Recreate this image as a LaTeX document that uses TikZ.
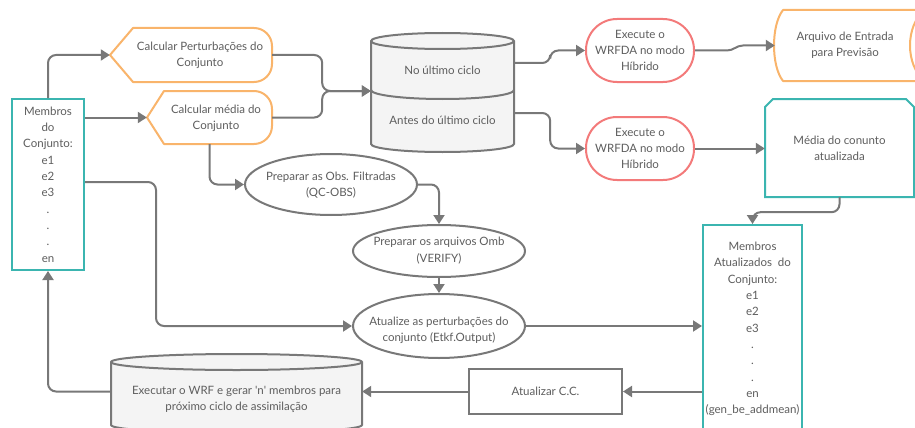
\documentclass[tikz,border=0pt]{standalone}
\usepackage{fontspec}
\setmainfont{Lato}
\usetikzlibrary{arrows.meta,shapes.geometric}
\definecolor{tealc}{HTML}{3BB5B0}
\definecolor{orangec}{HTML}{F9B46B}
\definecolor{redc}{HTML}{F37A7A}
\definecolor{linec}{HTML}{787878}
\definecolor{txtc}{HTML}{5E5E5E}
\definecolor{cylfill}{HTML}{F4F4F4}
\begin{document}
\begin{tikzpicture}[x=1pt,y=-1pt,
  every node/.style={font=\fontsize{11.5}{16.3}\selectfont, text=txtc, align=center, inner sep=0pt},
  anchorbox/.style={draw=none, rectangle, inner sep=0pt},
  tealbox/.style={draw=tealc, line width=2pt, fill=white, rectangle},
  stadium/.style={draw=redc, line width=2pt, fill=white, rectangle, rounded corners=31pt, minimum width=108, minimum height=63},
  oval/.style={draw=linec, line width=2pt, fill=white, ellipse, minimum width=172},
  boxg/.style={draw=linec, line width=2pt, fill=white, rectangle},
  orangeline/.style={draw=orangec, line width=2pt, fill=white, line join=round},
  cylline/.style={draw=linec, line width=2pt, fill=cylfill},
  cylarc/.style={draw=linec, line width=2pt},
  conn/.style={draw=linec, line width=2pt, rounded corners=8pt, -{Triangle[length=9pt,width=11pt]}}
]
\useasboundingbox (0,0) rectangle (915,428);
\clip (0,0) rectangle (915,428);

% ---- custom shapes ----
% Calcular Perturbacoes
\draw[orangeline] (110,55) -- (133,28) -- (254,28) arc[start angle=90,end angle=0,radius=18pt]
  -- (272,64) arc[start angle=0,end angle=-90,radius=18pt] -- (133,82) -- cycle;
% Calcular media
\draw[orangeline] (147,117.5) -- (164,91) -- (254,91) arc[start angle=90,end angle=0,radius=18pt]
  -- (272,126) arc[start angle=0,end angle=-90,radius=18pt] -- (164,144) -- cycle;
% top cylinder
\draw[cylline] (371,41) -- (371,144) arc[start angle=180,end angle=360,x radius=71.5pt,y radius=8pt]
  -- (514,41) arc[start angle=0,end angle=180,x radius=71.5pt,y radius=8pt] -- cycle;
\draw[cylarc] (371,41) arc[start angle=180,end angle=360,x radius=71.5pt,y radius=8pt];
\draw[cylarc] (371,90) arc[start angle=180,end angle=360,x radius=71.5pt,y radius=9pt];
% bottom cylinder
\draw[cylline] (111,362) -- (111,425) arc[start angle=180,end angle=360,x radius=125.5pt,y radius=8pt]
  -- (362,362) arc[start angle=0,end angle=180,x radius=125.5pt,y radius=8pt] -- cycle;
\draw[cylarc] (111,362) arc[start angle=180,end angle=360,x radius=125.5pt,y radius=8pt];
% Arquivo (stored data)
\draw[orangeline] (783,10) -- (925,10) .. controls (905,25) and (905,66) .. (925,81)
  -- (783,81) .. controls (771,66) and (771,25) .. (783,10) -- cycle;
% Media (chamfered)
\draw[draw=tealc, line width=2pt, fill=white] (765,107) -- (773,99) -- (906,99) -- (914,107)
  -- (914,197) -- (765,197) -- cycle;

% ---- nodes ----
\node[tealbox, minimum width=72, minimum height=171] (mem) at (48,184.5)
  {Membros\\do\\Conjunto:\\e1\\e2\\e3\\.\\.\\.\\en};
\node[tealbox, minimum width=99, minimum height=208] (mau) at (752.5,329)
  {Membros\\Atualizados\ \ do\\Conjunto:\\e1\\e2\\e3\\.\\.\\.\\en\\(gen\_be\_addmean)};

\node[anchorbox, minimum width=162, minimum height=54] (cp) at (191,55) {};
\node (cpt) at (200,55.5) {Calcular Perturbações do\\Conjunto};
\node[anchorbox, minimum width=125, minimum height=53] (cm) at (209.5,117.5) {};
\node (cmt) at (216,118) {Calcular média do\\Conjunto};

\node[anchorbox, minimum width=143, minimum height=100] (cyl) at (442.5,91) {};
\node (noul) at (442.5,70.5) {No último ciclo};
\node (antes) at (442.5,120.5) {Antes do último ciclo};

\node[stadium] (ex1) at (640,50.5) {Execute o\\WRFDA no modo\\Híbrido};
\node[stadium] (ex2) at (640,148.5) {Execute o\\WRFDA no modo\\Híbrido};

\node[anchorbox, minimum width=140, minimum height=71] (arq) at (845,45.5) {Arquivo de Entrada\\para Previsão};
\node[anchorbox, minimum width=149, minimum height=98] (med) at (839.5,148) {Média do conunto\\atualizada};

\node[oval, minimum height=61] (qc) at (331,184.5) {};
\node (qct) at (331,185) {Preparar as Obs. Filtradas\\(QC-OBS)};
\node[oval, minimum height=52] (omb) at (439,251) {};
\node (ombt) at (439,250.5) {Preparar os arquivos Omb\\(VERIFY)};
\node[oval, minimum height=64] (atu) at (439,326) {};
\node (atut) at (439,330) {Atualize as perturbações do\\conjunto (Etkf.Output)};

\node[boxg, minimum width=153, minimum height=45] (acc) at (545.5,391.5) {Atualizar C.C.};
\node[anchorbox, minimum width=251, minimum height=40] (wrf) at (236.5,399.5)
  {Executar o WRF e gerar \textquotesingle n\textquotesingle{} membros para\\próximo ciclo de assimilação};

% ---- connectors ----
\draw[conn] (mem.north) |- (cp.west);
\draw[conn] (mem.east |- cm.west) -- (cm.west);
\draw[conn] ([yshift=2.5pt]mem.east) -- ++(71,0) |- (atu.west);
\draw[conn] (cm.south) |- (qc.west);
\draw[conn] (cp.east) -- ++(50,0) |- (cyl.west);
\draw[conn] (cm.east) -- ++(50,0) |- (cyl.west);
\draw[conn] ([yshift=28pt]cyl.east) -- ++(36,0) |- (ex1.west);
\draw[conn] ([yshift=-22pt]cyl.east) -- ++(36,0) |- (ex2.west);
\draw[conn, sharp corners] (ex1.east) -- ++(32,0) to[out=0,in=180] ++(16,-5) -- (arq.west);
\draw[conn] (ex2.east) -- (ex2.east -| med.west);
\draw[conn] (med.south) -- ++(0,15) -| (mau.north);
\draw[conn] (qc.east) -| (omb.north);
\draw[conn] (omb.south) -- (atu.north);
\draw[conn] (atu.east) -- (atu.east -| mau.west);
\draw[conn] (mau.west |- acc.east) -- (acc.east);
\draw[conn] (acc.west) -- (acc.west -| wrf.east);
\draw[conn] (wrf.west |- acc.west) -| (mem.south);
\end{tikzpicture}
\end{document}
